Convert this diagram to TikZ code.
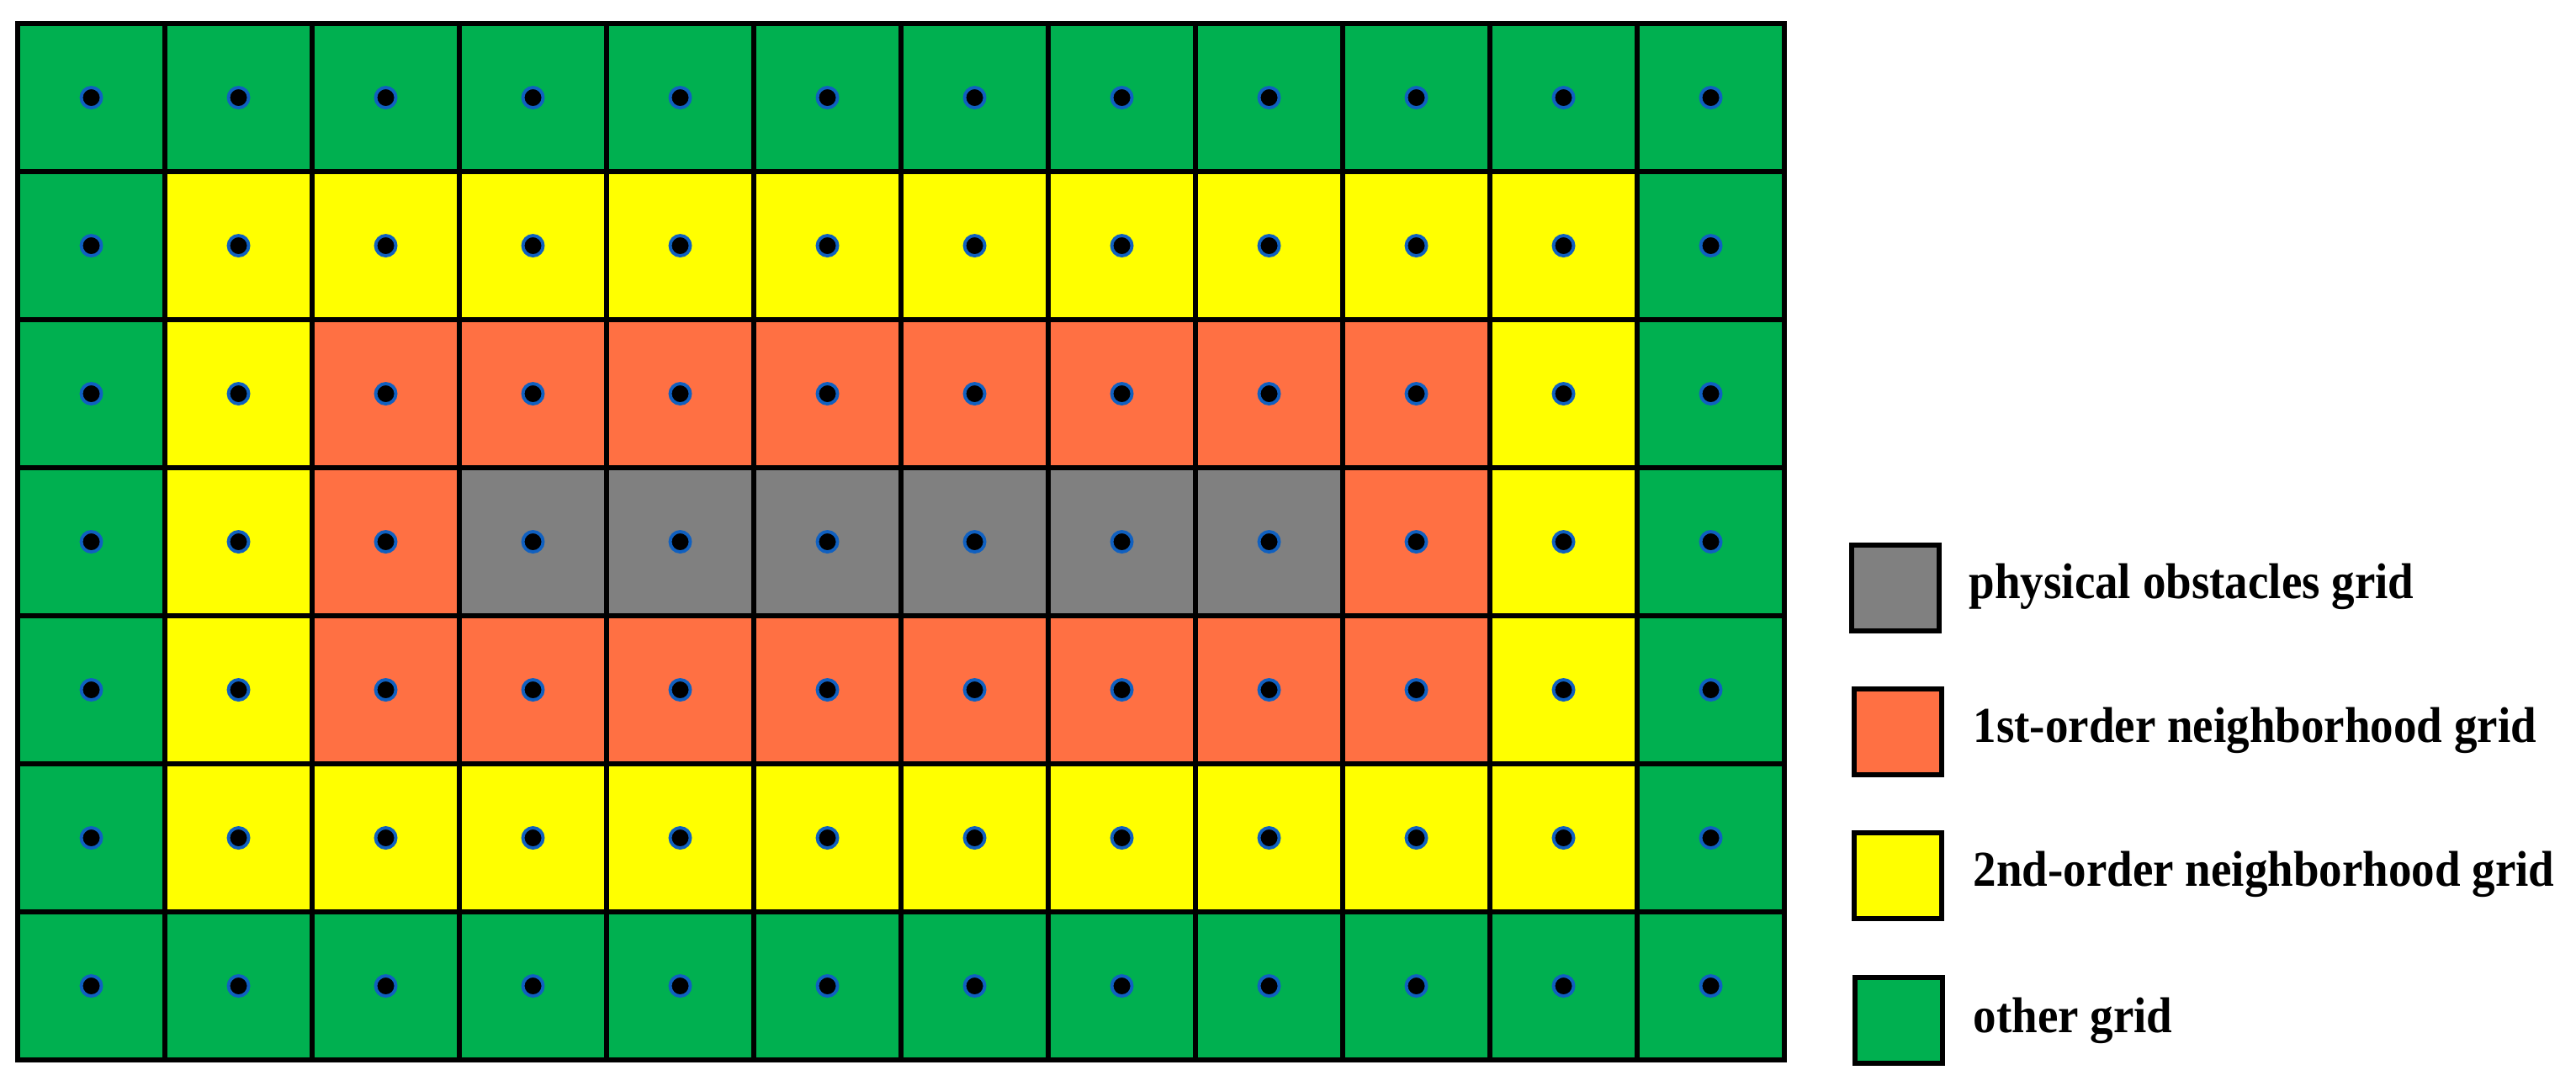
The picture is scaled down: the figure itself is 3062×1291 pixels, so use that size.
\documentclass[tikz,border=0pt]{standalone}
\usepackage{fontspec}
\setmainfont{Liberation Serif}
\definecolor{cgreen}{HTML}{00B050}
\definecolor{cyellow}{HTML}{FFFF00}
\definecolor{corange}{HTML}{FF7043}
\definecolor{cgray}{HTML}{808080}
\definecolor{cblue}{HTML}{1060C0}
\tikzset{
  cell/.style={draw=black, line width=1.7pt, minimum width=1.75cm, minimum height=1.76cm, inner sep=0pt, outer sep=0pt, anchor=north west},
  dotmark/.style={circle, fill=black, draw=cblue, line width=1.1pt, minimum size=0.24cm, inner sep=0pt},
  legbox/.style={draw=black, line width=1.7pt, minimum width=1.04cm, minimum height=1.02cm, inner sep=0pt},
  legtext/.style={anchor=base west, inner sep=0pt, font=\fontsize{17pt}{20pt}\selectfont\bfseries}
}
\begin{document}
\begin{tikzpicture}[x=0.01cm, y=-0.01cm]
\useasboundingbox (0,0) rectangle (3062,1291);
\foreach \r in {0,...,6}{
  \foreach \c in {0,...,11}{
    \pgfmathtruncatemacro{\dr}{min(\r,6-\r)}
    \pgfmathtruncatemacro{\dc}{min(\c,11-\c)}
    \pgfmathtruncatemacro{\d}{min(\dr,\dc)}
    \ifcase\d
      \def\fc{cgreen}\or \def\fc{cyellow}\or \def\fc{corange}\or \def\fc{cgray}\fi
    \node[cell, fill=\fc] (cell-\r-\c) at ({21+175*\c},{28+176*\r}) {};
    \node[dotmark] (dot-\r-\c) at (cell-\r-\c.center) {};
  }
}
\node[legbox, fill=cgray]   (lg1) at (2253,699) {};
\node[legbox, fill=corange] (lg2) at (2256,870) {};
\node[legbox, fill=cyellow] (lg3) at (2256,1041) {};
\node[legbox, fill=cgreen]  (lg4) at (2257,1213) {};
\node[legtext] (lt1) at (2340,711) {\scalebox{0.92}[1]{physical obstacles grid}};
\node[legtext] (lt2) at (2345,882) {\scalebox{0.92}[1]{1st-order neighborhood grid}};
\node[legtext] (lt3) at (2345,1053) {\scalebox{0.92}[1]{2nd-order neighborhood grid}};
\node[legtext] (lt4) at (2345,1227) {\scalebox{0.92}[1]{other grid}};
\end{tikzpicture}
\end{document}
